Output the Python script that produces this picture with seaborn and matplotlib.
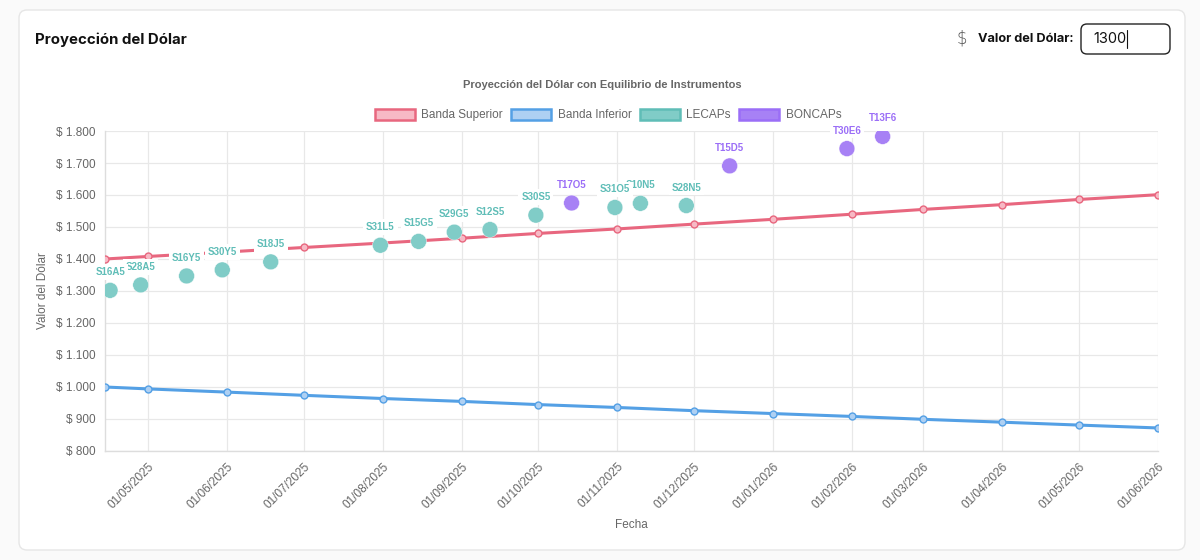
import matplotlib
matplotlib.use("Agg")
import matplotlib.pyplot as plt
import matplotlib.dates as mdates
import matplotlib.ticker as mticker
from matplotlib.patches import FancyBboxPatch, Patch
from matplotlib.lines import Line2D
import pandas as pd
import seaborn as sns

# bandas cambiarias
band_dates = ["2025-04-14", "2025-05-01", "2025-06-01", "2025-07-01", "2025-08-01",
              "2025-09-01", "2025-10-01", "2025-11-01", "2025-12-01", "2026-01-01",
              "2026-02-01", "2026-03-01", "2026-04-01", "2026-05-01", "2026-06-01"]
upper_band = [1400, 1408, 1422, 1436, 1450, 1465, 1480, 1494, 1509, 1524, 1540, 1555, 1570, 1586, 1601]
lower_band = [1000, 994, 984, 974, 964, 955, 945, 936, 926, 917, 908, 899, 890, 881, 872]

# instrumentos
lecap_names = ["S16A5", "S28A5", "S16Y5", "S30Y5", "S18J5", "S31L5", "S15G5",
               "S29G5", "S12S5", "S30S5", "S31O5", "S10N5", "S28N5"]
lecap_dates = ["2025-04-16", "2025-04-28", "2025-05-16", "2025-05-30", "2025-06-18",
               "2025-07-31", "2025-08-15", "2025-08-29", "2025-09-12", "2025-09-30",
               "2025-10-31", "2025-11-10", "2025-11-28"]
lecap_values = [1302, 1319, 1347, 1366, 1391, 1443, 1455, 1484, 1492, 1537, 1561, 1574, 1567]

boncap_names = ["T17O5", "T15D5", "T30E6", "T13F6"]
boncap_dates = ["2025-10-14", "2025-12-15", "2026-01-30", "2026-02-13"]
boncap_values = [1575, 1691, 1745, 1783]

y_ticks = list(range(800, 1900, 100))

RED = "#e8677f"
RED_LIGHT = "#f7b9c5"
BLUE = "#54a0e5"
BLUE_LIGHT = "#aed0f3"
TEAL = "#5fbdb7"
TEAL_FILL = "#80ccc7"
PURPLE = "#9b6ef7"
PURPLE_FILL = "#a781f5"
GRID = "#e8e8e8"
TXT = "#666666"


def fmt_peso(v, _pos):
    return "$ " + f"{int(v):,}".replace(",", ".")


def main():
    bands = pd.DataFrame({
        "fecha": pd.to_datetime(band_dates),
        "superior": upper_band,
        "inferior": lower_band,
    })
    inst = pd.DataFrame({
        "nombre": lecap_names + boncap_names,
        "fecha": pd.to_datetime(lecap_dates + boncap_dates),
        "valor": lecap_values + boncap_values,
        "tipo": ["LECAPs"] * len(lecap_names) + ["BONCAPs"] * len(boncap_names),
    })

    sns.set_theme(style="white")
    plt.rcParams["font.family"] = ["Liberation Sans", "DejaVu Sans"]

    fig = plt.figure(figsize=(12, 5.6), dpi=100)
    fig.patch.set_facecolor("#fafafa")

    # tarjeta
    card = FancyBboxPatch((0.19, 0.10), 11.66, 5.40,
                          boxstyle="round,pad=0,rounding_size=0.08",
                          transform=fig.dpi_scale_trans, facecolor="white",
                          edgecolor="#e6e6e6", lw=1.0, zorder=0)
    fig.add_artist(card)

    fig.text(35 / 1200, 1 - 40 / 560, "Proyección del Dólar", fontsize=10.8,
             fontweight="bold", family=["Inter", "DejaVu Sans"], color="#111111",
             va="center", ha="left")
    fig.text(962 / 1200, 1 - 39 / 560, "$", fontsize=12, color="#555555",
             family=["DejaVu Sans"], va="center", ha="center", fontweight="light")
    fig.text(978 / 1200, 1 - 39 / 560, "Valor del Dólar:", fontsize=9.2,
             fontweight="bold", family=["Inter", "DejaVu Sans"], color="#111111",
             va="center", ha="left")
    box = FancyBboxPatch((10.81, 5.06), 0.89, 0.30,
                         boxstyle="round,pad=0,rounding_size=0.06",
                         transform=fig.dpi_scale_trans, facecolor="white",
                         edgecolor="#222222", lw=1.0)
    fig.add_artist(box)
    fig.text(1093 / 1200, 1 - 39 / 560, "1300", fontsize=10.5,
             family=["Inter", "DejaVu Sans"], color="#111111", va="center", ha="left")
    fig.add_artist(Line2D([1127 / 1200, 1127 / 1200], [1 - 30 / 560, 1 - 48 / 560],
                          transform=fig.transFigure, color="#111111", lw=0.8))

    fig.text(602 / 1200, 1 - 85 / 560, "Proyección del Dólar con Equilibrio de Instrumentos",
             fontsize=8, fontweight="bold", color=TXT, ha="center", va="center")

    ax = fig.add_axes([105 / 1200, 109 / 560, 1053 / 1200, 320 / 560])
    ax.set_facecolor("white")

    sns.lineplot(data=bands, x="fecha", y="superior", ax=ax, color=RED, lw=2.2,
                 marker="o", markersize=5, markerfacecolor=RED_LIGHT,
                 markeredgecolor=RED, markeredgewidth=1, zorder=3)
    sns.lineplot(data=bands, x="fecha", y="inferior", ax=ax, color=BLUE, lw=2.2,
                 marker="o", markersize=5, markerfacecolor=BLUE_LIGHT,
                 markeredgecolor=BLUE, markeredgewidth=1, zorder=3)
    sns.scatterplot(data=inst, x="fecha", y="valor", hue="tipo", ax=ax,
                    palette={"LECAPs": TEAL_FILL, "BONCAPs": PURPLE_FILL},
                    s=130, edgecolor="white", linewidth=0.3, legend=False, zorder=4)

    # etiquetas, en orden inverso para que las anteriores tapen a las siguientes
    for i in reversed(range(len(inst))):
        row = inst.iloc[i]
        col = TEAL if row["tipo"] == "LECAPs" else PURPLE
        ax.annotate(row["nombre"], (row["fecha"], row["valor"]), xytext=(0, 13),
                    textcoords="offset points", ha="center", va="center",
                    fontsize=7.0, fontweight="bold", color=col,
                    zorder=5 + (len(inst) - i) * 0.01,
                    bbox=dict(boxstyle="square,pad=0.3", fc="white", ec="none"))

    ax.set_xlim(pd.Timestamp("2025-04-14"), pd.Timestamp("2026-06-01"))
    ax.set_ylim(800, 1800)
    ax.set_yticks(y_ticks)
    ax.yaxis.set_major_formatter(mticker.FuncFormatter(fmt_peso))
    ax.set_xticks(pd.to_datetime(band_dates[1:]))
    ax.xaxis.set_major_formatter(mdates.DateFormatter("%d/%m/%Y"))
    plt.setp(ax.get_xticklabels(), rotation=45, ha="right", rotation_mode="anchor")

    ax.grid(True, color=GRID, lw=0.9)
    ax.tick_params(axis="both", length=5, color=GRID, labelsize=8.5, labelcolor=TXT, pad=2)
    for side in ["top", "right"]:
        ax.spines[side].set_visible(False)
    for side in ["left", "bottom"]:
        ax.spines[side].set_color("#dddddd")
        ax.spines[side].set_linewidth(1.0)

    ax.set_xlabel("Fecha", fontsize=8.5, color=TXT, labelpad=6)
    ax.set_ylabel("Valor del Dólar", fontsize=8.5, color=TXT, labelpad=5)

    handles = [
        Patch(facecolor=RED_LIGHT, edgecolor=RED, lw=1.8, label="Banda Superior"),
        Patch(facecolor=BLUE_LIGHT, edgecolor=BLUE, lw=1.8, label="Banda Inferior"),
        Patch(facecolor=TEAL_FILL, edgecolor=TEAL, lw=1.8, label="LECAPs"),
        Patch(facecolor=PURPLE_FILL, edgecolor=PURPLE, lw=1.8, label="BONCAPs"),
    ]
    leg = fig.legend(handles=handles, loc="center", ncol=4, frameon=False,
                     bbox_to_anchor=(608 / 1200, 1 - 115 / 560), fontsize=8.5,
                     handlelength=3.4, handleheight=1.05, handletextpad=0.55,
                     columnspacing=0.7)
    for t in leg.get_texts():
        t.set_color(TXT)

    fig.savefig("out.png", dpi=100, facecolor=fig.get_facecolor())
    plt.close(fig)


if __name__ == "__main__":
    main()
